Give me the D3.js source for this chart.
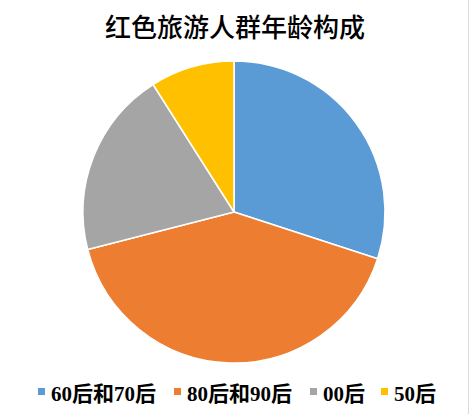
<!DOCTYPE html>
<html>
<head>
<meta charset="utf-8">
<script src="https://cdn.jsdelivr.net/npm/d3@7"></script>
<style>
  body { margin: 0; background: #fff; }
</style>
</head>
<body>
<div class="chart"></div>
<script>
// data
var categories = ["60后和70后", "80后和90后", "00后", "50后"];
var values = [30, 41, 20, 9];
var colors = ["#5B9BD5", "#ED7D31", "#A5A5A5", "#FFC000"];
var title = "红色旅游人群年龄构成";

var w = 471, h = 414;
var cx = 234, cy = 212, r = 151;

var svg = d3.select(".chart").append("svg").attr("width", w).attr("height", h);

svg.append("rect").attr("width", w).attr("height", h).attr("fill", "#fff");
// right border of chart area
svg.append("line").attr("x1", 468.5).attr("x2", 468.5).attr("y1", 0).attr("y2", h)
   .attr("stroke", "#d9d9d9").attr("stroke-width", 1);

svg.append("text")
   .attr("x", 235).attr("y", 37)
   .attr("text-anchor", "middle")
   .attr("font-family", "'Noto Sans CJK SC',serif")
   .attr("font-weight", 500)
   .attr("font-size", 26)
   .attr("fill", "#000")
   .text(title);

var pie = d3.pie().sort(null).value(function(d){ return d; });
var arc = d3.arc().innerRadius(0).outerRadius(r);
var color = d3.scaleOrdinal().domain(categories).range(colors);

svg.append("g").attr("transform", "translate(" + cx + "," + cy + ")")
   .selectAll("path")
   .data(pie(values))
   .enter()
   .append("path")
   .attr("d", arc)
   .attr("fill", function(d, i){ return color(categories[i]); })
   .attr("stroke", "#fff")
   .attr("stroke-width", 1.5)
   .attr("stroke-linejoin", "round");

// legend
var legendX = [38, 174, 310, 381];
var legend = svg.append("g").selectAll("g")
   .data(categories)
   .enter()
   .append("g")
   .attr("transform", function(d, i){ return "translate(" + legendX[i] + ",0)"; });

legend.append("rect")
   .attr("x", 0).attr("y", 388).attr("width", 7).attr("height", 7)
   .attr("fill", function(d){ return color(d); });

legend.append("text")
   .attr("x", 13).attr("y", 401)
   .attr("font-family", "'Liberation Serif','Noto Sans CJK SC',serif")
   .attr("font-weight", "bold")
   .attr("font-size", 21)
   .attr("fill", "#000")
   .text(function(d){ return d; });
</script>
</body>
</html>
